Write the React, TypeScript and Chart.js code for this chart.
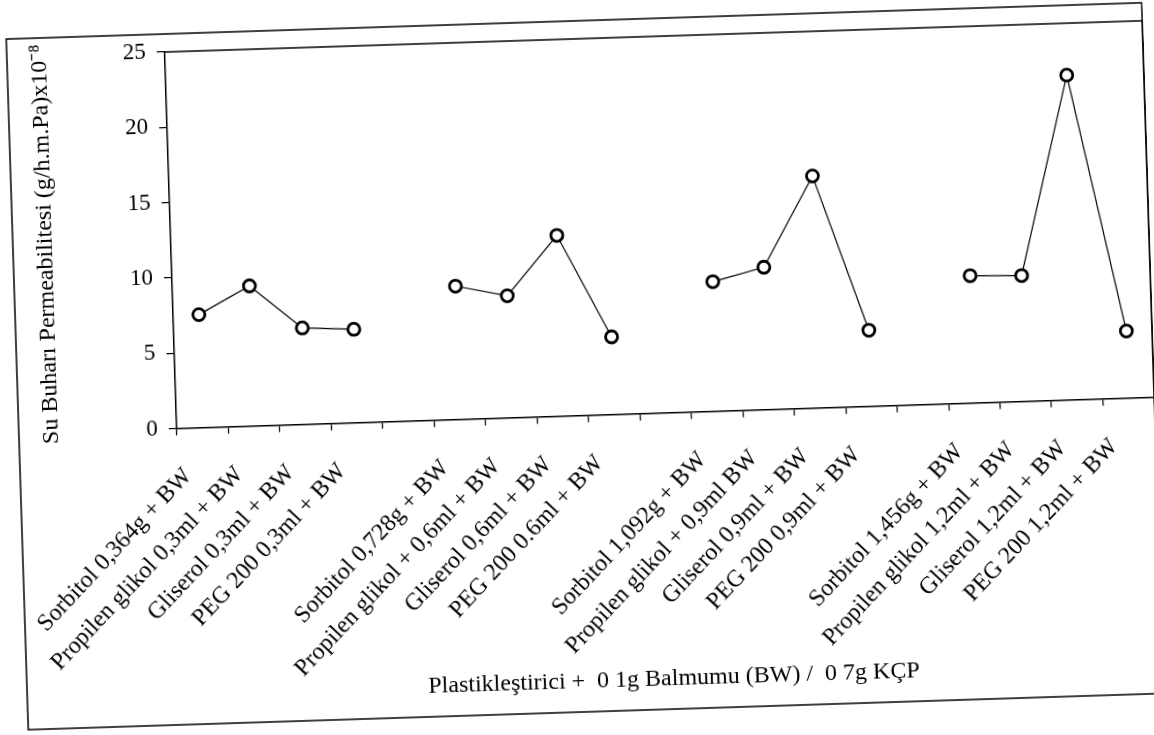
import React, { useEffect, useRef } from "react";
import { Chart, registerables } from "chart.js";

Chart.register(...registerables);

const categories: string[] = [
  "Sorbitol 0,364g + BW",
  "Propilen glikol 0,3ml + BW",
  "Gliserol 0,3ml + BW",
  "PEG 200 0,3ml + BW",
  "",
  "Sorbitol 0,728g + BW",
  "Propilen glikol + 0,6ml + BW",
  "Gliserol 0,6ml + BW",
  "PEG 200 0.6ml + BW",
  "",
  "Sorbitol 1,092g + BW",
  "Propilen glikol + 0,9ml BW",
  "Gliserol 0,9ml + BW",
  "PEG 200 0,9ml + BW",
  "",
  "Sorbitol 1,456g + BW",
  "Propilen glikol 1,2ml + BW",
  "Gliserol 1,2ml + BW",
  "PEG 200 1,2ml + BW",
];

const permeability: (number | null)[] = [
  7.5, 9.3, 6.4, 6.2, null,
  8.85, 8.1, 12.0, 5.15, null,
  8.6, 9.45, 15.4, 5.05, null,
  8.45, 8.35, 21.55, 4.45,
];

const yTickValues: number[] = [0, 5, 10, 15, 20, 25];

const yTitle = "Su Buharı Permeabilitesi (g/h.m.Pa)x10⁻⁸";
const xTitle = "Plastikleştirici +  0 1g Balmumu (BW) /  0 7g KÇP";

const FONT = "'Liberation Serif', 'Times New Roman', serif";

const framePlugin = {
  id: "scanFrame",
  beforeDraw(chart: any) {
    const ctx = chart.ctx;
    ctx.save();
    ctx.fillStyle = "#ffffff";
    ctx.fillRect(0, 0, chart.width, chart.height);
    ctx.restore();
  },
  afterDraw(chart: any) {
    const ctx = chart.ctx;
    const a = chart.chartArea;
    ctx.save();
    ctx.strokeStyle = "#000";
    ctx.lineWidth = 1.5;
    ctx.strokeRect(17, 21, a.right - 17, 691);
    ctx.beginPath();
    ctx.moveTo(a.left, a.top);
    ctx.lineTo(a.right, a.top);
    ctx.lineTo(a.right, a.bottom);
    ctx.stroke();
    ctx.restore();
  },
};

export default function App() {
  const ref = useRef<HTMLCanvasElement | null>(null);

  useEffect(() => {
    if (!ref.current) return;
    const chart = new Chart(ref.current, {
      type: "line",
      data: {
        labels: categories,
        datasets: [
          {
            data: permeability,
            borderColor: "#000",
            borderWidth: 1.2,
            pointRadius: 6,
            pointBorderWidth: 2.8,
            pointBackgroundColor: "#fff",
            pointBorderColor: "#000",
            spanGaps: false,
            tension: 0,
          },
        ],
      },
      options: {
        animation: false,
        responsive: false,
        events: [],
        layout: {
          autoPadding: false,
          padding: { top: 39, right: 1, bottom: 0, left: 0 },
        },
        plugins: {
          legend: { display: false },
          tooltip: { enabled: false },
        },
        scales: {
          x: {
            type: "category",
            offset: true,
            grid: {
              offset: true,
              drawOnChartArea: false,
              drawTicks: true,
              tickLength: 7,
              color: "#000",
              lineWidth: 1.2,
            },
            border: { display: true, color: "#000", width: 1.5 },
            ticks: {
              autoSkip: false,
              maxRotation: 45,
              minRotation: 45,
              padding: 27,
              labelOffset: -16,
              color: "#000",
              font: { family: FONT, size: 24 },
            },
            title: {
              display: true,
              text: xTitle,
              color: "#000",
              font: { family: FONT, size: 24 },
              padding: { top: 0, bottom: 39 },
            },
            afterFit: (s: any) => {
              s.height = 319.4;
              s.paddingLeft = 0;
              s.paddingRight = 0;
            },
          },
          y: {
            min: 0,
            max: 25,
            grid: {
              drawOnChartArea: false,
              drawTicks: true,
              tickLength: 8,
              color: "#000",
              lineWidth: 1.2,
            },
            border: { display: true, color: "#000", width: 1.5 },
            afterBuildTicks: (s: any) => {
              s.ticks = yTickValues.map((v) => ({ value: v }));
            },
            ticks: {
              padding: 11,
              color: "#000",
              font: { family: FONT, size: 23 },
            },
            title: {
              display: true,
              text: yTitle,
              color: "#000",
              font: { family: FONT, size: 24 },
              padding: { top: 35, bottom: 0 },
            },
            afterFit: (s: any) => {
              s.width = 175;
            },
          },
        },
      },
      plugins: [framePlugin],
    });
    return () => chart.destroy();
  }, []);

  return (
    <div
      style={{
        position: "fixed",
        left: 0,
        top: 0,
        width: 1154,
        height: 735,
        transform: "rotate(-1.83deg)",
        transformOrigin: "577px 367px",
        background: "#fff",
      }}
    >
      <canvas
        ref={ref}
        width={1154}
        height={735}
        style={{ width: 1154, height: 735, display: "block" }}
      />
    </div>
  );
}
